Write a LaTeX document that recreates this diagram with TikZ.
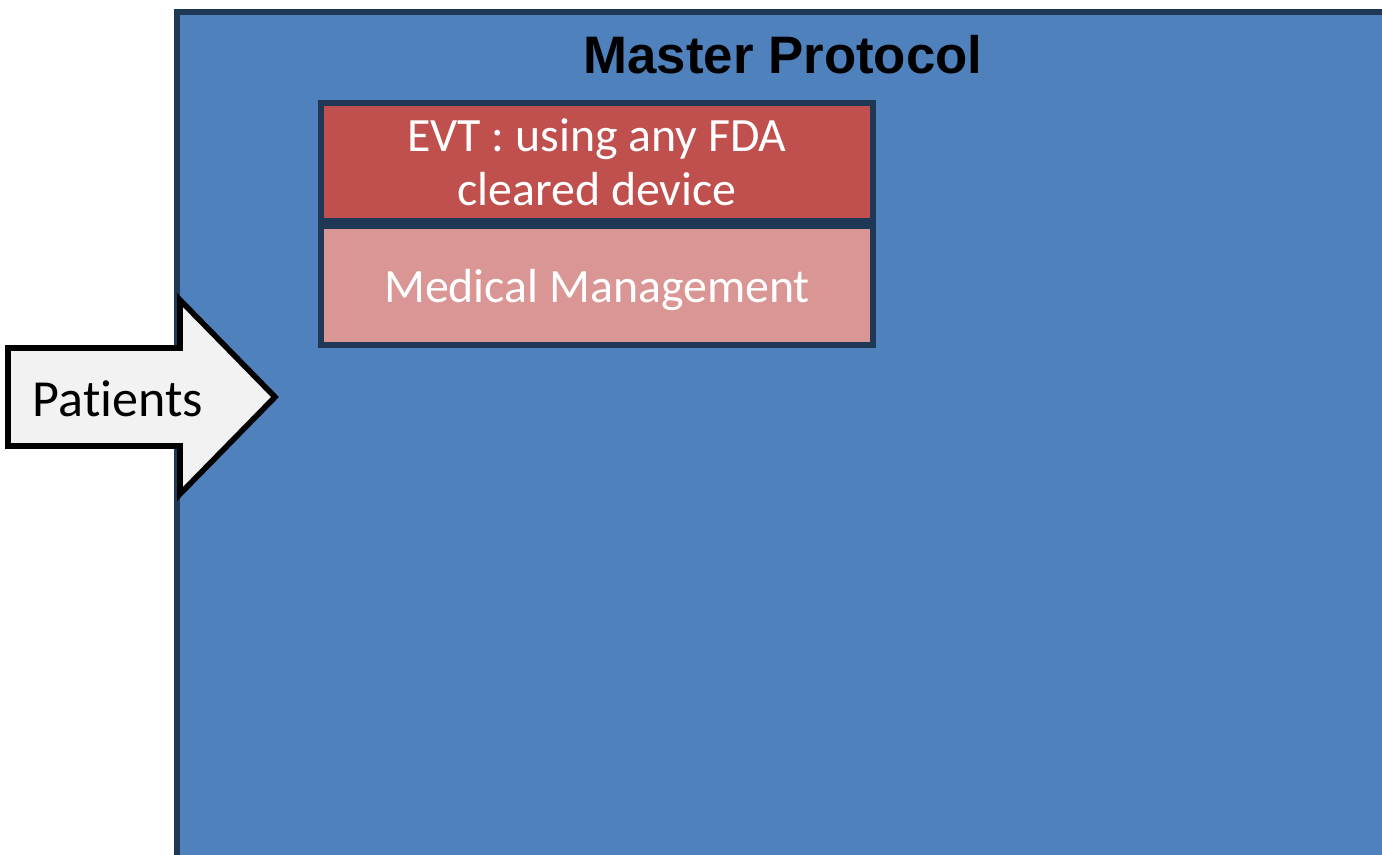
\documentclass[tikz,border=0pt]{standalone}
\usepackage{fontspec}
\setmainfont{Carlito}[Ligatures=NoCommon]
\newfontfamily\titlefont{Liberation Sans}
\usetikzlibrary{positioning}
\definecolor{protoblue}{HTML}{4F81BD}
\definecolor{protoline}{HTML}{1F3855}
\definecolor{evtred}{HTML}{C0504D}
\definecolor{medpink}{HTML}{D99694}
\definecolor{arrowgray}{HTML}{F2F2F2}

\begin{document}
\begin{tikzpicture}[x=0.01cm,y=-0.01cm,
  armbox/.style={draw=protoline,line width=1.6pt,minimum width=5.52cm,minimum height=1.18cm,
    inner sep=0pt,align=center,text=white,font=\fontsize{13.6}{15.5}\selectfont}]
  \useasboundingbox (0,0) rectangle (1382,855);
  \clip (0,0) rectangle (1382,855);
  % master protocol frame
  \draw[draw=protoline,fill=protoblue,line width=1.7pt] (177,12) rectangle (1420,900);
  \node[font=\titlefont\bfseries\fontsize{15}{18}\selectfont] (title) at (783,55) {Master Protocol};
  % arms
  \node[armbox,fill=evtred] (evt) at (597,162) {EVT : using any FDA\\cleared device};
  \node[armbox,fill=medpink,text depth=0pt,below=0cm of evt] (med) {Medical Management};
  % patients arrow
  \draw[line width=1.6pt,fill=arrowgray] (8,348) -- (180,348) -- (180,300) -- (275,397)
    -- (180,494) -- (180,446) -- (8,446) -- cycle;
  \node[font=\fontsize{14.8}{17}\selectfont] (patients) at (118,399) {Patients};
\end{tikzpicture}
\end{document}
